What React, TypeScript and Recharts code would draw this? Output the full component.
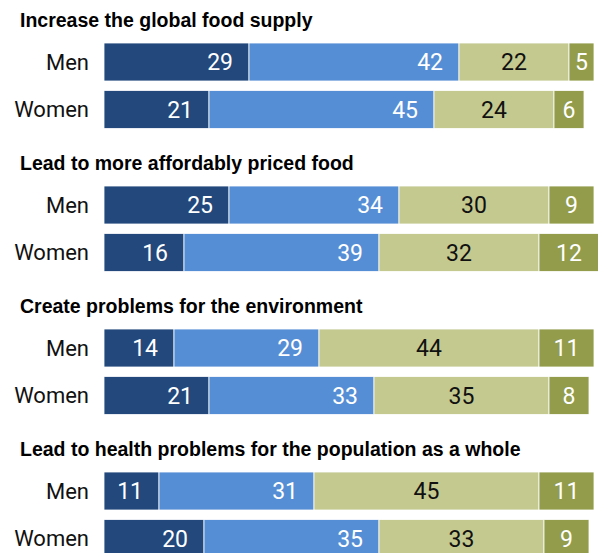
import { Bar, BarChart, LabelList, XAxis, YAxis } from "recharts";

const titles = [
  "Increase the global food supply",
  "Lead to more affordably priced food",
  "Create problems for the environment",
  "Lead to health problems for the population as a whole",
];
const genders = ["Men", "Women"];

// one pair [Men, Women] per title
const veryLikely = [[29, 21], [25, 16], [14, 21], [11, 20]];
const fairlyLikely = [[42, 45], [34, 39], [29, 33], [31, 35]];
const notTooLikely = [[22, 24], [30, 32], [44, 35], [45, 33]];
const notAtAllLikely = [[5, 6], [9, 12], [11, 8], [11, 9]];

const FONT = "Roboto, 'Liberation Sans', Arial, sans-serif";
const TITLE_FONT = "'Liberation Sans', Arial, sans-serif";

const series = [
  { key: "veryLikely", color: "#22487c", text: "#ffffff", align: "end" },
  { key: "fairlyLikely", color: "#568ed5", text: "#ffffff", align: "end" },
  { key: "notTooLikely", color: "#c4c98f", text: "#111111", align: "middle" },
  { key: "notAtAllLikely", color: "#929c4a", text: "#ffffff", align: "middle" },
];

function makeLabel(fill: string, align: string) {
  return (props: any) => {
    const { x, y, width, height, value } = props;
    const tx = align === "end" ? x + width - 16 : x + width / 2;
    return (
      <text
        x={tx}
        y={y + height / 2}
        dy="0.36em"
        textAnchor={align}
        fill={fill}
        fontSize={23}
        fontFamily={FONT}
      >
        {value}
      </text>
    );
  };
}

function Group({ idx }: { idx: number }) {
  const data = genders.map((g, i) => ({
    gender: g,
    veryLikely: veryLikely[idx][i],
    fairlyLikely: fairlyLikely[idx][i],
    notTooLikely: notTooLikely[idx][i],
    notAtAllLikely: notAtAllLikely[idx][i],
  }));
  return (
    <div style={{ height: 143 }}>
      <div
        style={{
          height: 38,
          lineHeight: "40px",
          paddingLeft: 20,
          fontFamily: TITLE_FONT,
          fontWeight: 700,
          fontSize: 19.5,
          color: "#000",
          whiteSpace: "nowrap",
        }}
      >
        {titles[idx]}
      </div>
      <BarChart
        width={604}
        height={105}
        data={data}
        layout="vertical"
        margin={{ top: 0, right: 0, bottom: 10, left: 0 }}
        barCategoryGap={0}
      >
        <XAxis type="number" domain={[0, 100]} hide />
        <YAxis
          type="category"
          dataKey="gender"
          width={104}
          axisLine={false}
          tickLine={false}
          tickSize={0}
          tickMargin={15}
          tick={{ fill: "#111", fontSize: 22, fontFamily: FONT }}
        />
        {series.map((s) => (
          <Bar
            key={s.key}
            dataKey={s.key}
            stackId="a"
            fill={s.color}
            stroke="#ffffff"
            strokeWidth={0.8}
            barSize={38}
            isAnimationActive={false}
          >
            <LabelList dataKey={s.key} content={makeLabel(s.text, s.align)} />
          </Bar>
        ))}
      </BarChart>
    </div>
  );
}

export default function App() {
  return (
    <div
      style={{
        position: "absolute",
        left: 0,
        top: 0,
        width: 598,
        height: 553,
        overflow: "hidden",
        background: "#fff",
      }}
    >
      {titles.map((_, i) => (
        <Group key={i} idx={i} />
      ))}
    </div>
  );
}
